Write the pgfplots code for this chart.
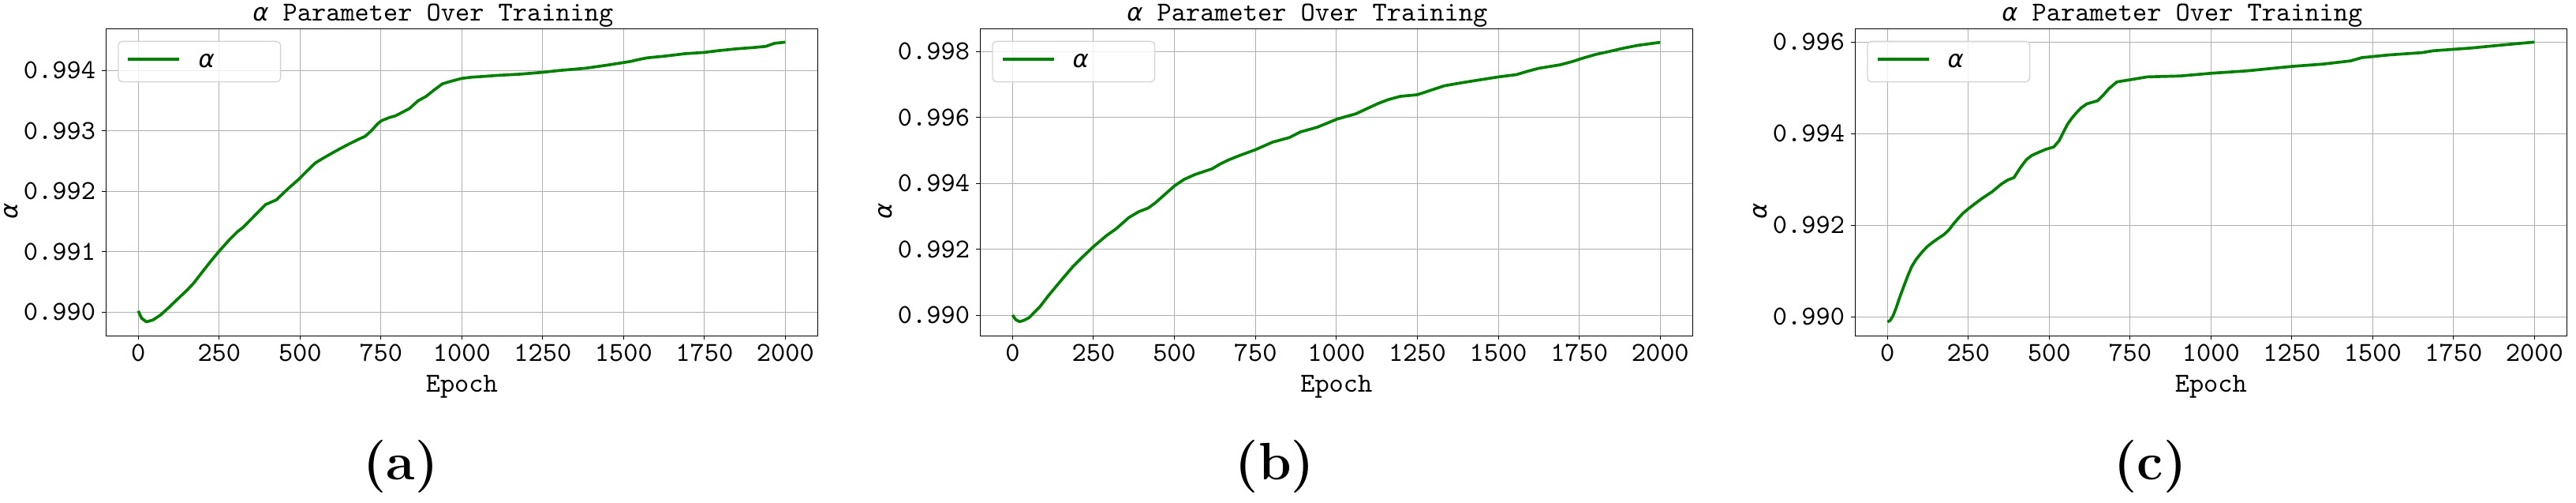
\documentclass[border=0pt]{standalone}
\usepackage{fontspec}
\usepackage{pgfplots}
\pgfplotsset{compat=1.18}
\newfontfamily\dv{DejaVu Sans}
\newcommand{\al}{{\dv\itshape\fontsize{9.2}{11}\selectfont α}}
\newcommand{\tf}{\fontsize{10.4}{12}\selectfont\ttfamily}
\definecolor{mplgreen}{HTML}{008000}
\pgfplotsset{
  panel/.style={
    scale only axis, height=116.7pt, anchor=south west,
    xmin=-100, xmax=2100,
    xtick={0,250,500,750,1000,1250,1500,1750,2000},
    scaled y ticks=false, scaled x ticks=false,
    yticklabel style={/pgf/number format/.cd, fixed, fixed zerofill, precision=3, assume math mode=true},
    xticklabel style={/pgf/number format/.cd, fixed, set thousands separator={}, assume math mode=true},
    ticklabel style={font=\tf, inner sep=0pt},
    xticklabel shift=1.4pt, yticklabel shift=2.3pt,
    tick align=outside, tick pos=left, major tick length=1.5pt,
    tick style={black, line width=0.3pt},
    axis line style={black, line width=0.35pt},
    grid=major, major grid style={color=black!31, line width=0.3pt},
    title={\al\ \tf Parameter Over Training},
    every axis title/.style={at={(axis description cs:0,1)}, anchor=base west, xshift=55.6pt, yshift=2.9pt, font=\tf, inner sep=0pt},
    xlabel={\tf Epoch},
    every axis x label/.style={at={(axis description cs:0.5,0)}, anchor=base, yshift=-21.4pt, inner sep=0pt},
    ylabel={\al},
    every axis y label/.style={at={(axis description cs:-0.1334,0.407)}, anchor=center, rotate=90, inner sep=0pt},
    legend style={
      at={(axis description cs:0.01663,0.9604)}, anchor=north west,
      draw=black!17, line width=0.4pt, rounded corners=1.5pt,
      fill=white, fill opacity=0.8, text opacity=1, draw opacity=1,
      inner xsep=3.2pt, inner ysep=0pt,
      nodes={inner sep=0pt, text height=10pt, text depth=5.4pt},
      /tikz/every odd column/.style={column sep=6.7pt},
      /tikz/every even column/.style={column sep=0pt},
    },
    legend cell align=left,
    legend image code/.code={\draw[##1, rounded corners=0pt] (0pt,0.9pt) -- (19.5pt,0.9pt);},
  },
  curve/.style={mplgreen, line width=1.1pt, line join=round},
}
\newcommand{\legtext}{\makebox[28pt][l]{\al}}
\begin{document}
\begin{tikzpicture}
\useasboundingbox (0pt,0pt) rectangle (979.5pt,190.8pt);
% panel (a)
\begin{axis}[panel, at={(40.29pt,63.21pt)}, width=270.6pt,
  ymin=0.989608, ymax=0.994693,
  ytick={0.990,0.991,0.992,0.993,0.994}]
\addplot[curve] coordinates {
(0,0.99002) (10,0.98990) (25,0.98984) (45,0.98987) (68,0.98995) (95,0.99008) (120,0.99021) (150,0.99036) (171,0.99048) (200,0.99068) (225,0.99085) (250,0.99101) (280,0.99119) (306,0.99133) (323,0.99140) (360,0.99160) (393,0.99178) (427,0.99186) (460,0.99203) (496,0.99220) (520,0.99233) (547,0.99247) (575,0.99256) (598,0.99263) (625,0.99271) (650,0.99278) (680,0.99286) (701,0.99291) (720,0.99300) (740,0.99312) (752,0.99317) (775,0.99322) (795,0.99325) (838,0.99337) (865,0.99350) (889,0.99357) (915,0.99368) (940,0.99378) (965,0.99382) (1000,0.99387) (1030,0.99389) (1060,0.99390) (1111,0.99392) (1180,0.99394) (1248,0.99397) (1300,0.99400) (1385,0.99404) (1450,0.99409) (1521,0.99415) (1545,0.99418) (1573,0.99421) (1630,0.99424) (1692,0.99428) (1750,0.99430) (1795,0.99433) (1850,0.99436) (1900,0.99438) (1940,0.99440) (1966,0.99445) (2000,0.99447)
};
\addlegendentry{\legtext}
\end{axis}
% panel (b)
\begin{axis}[panel, at={(372.69pt,63.21pt)}, width=270.9pt,
  ymin=0.98937, ymax=0.998695,
  ytick={0.990,0.992,0.994,0.996,0.998}]
\addplot[curve] coordinates {
(0,0.99000) (10,0.98986) (22,0.98980) (35,0.98984) (51,0.98992) (85,0.99026) (110,0.99058) (137,0.99090) (160,0.99117) (188,0.99149) (220,0.99180) (250,0.99208) (291,0.99242) (320,0.99262) (359,0.99296) (390,0.99314) (419,0.99325) (440,0.99340) (462,0.99359) (501,0.99393) (530,0.99412) (564,0.99427) (616,0.99444) (640,0.99458) (667,0.99471) (700,0.99484) (750,0.99502) (803,0.99525) (855,0.99539) (889,0.99556) (940,0.99570) (970,0.99582) (1002,0.99595) (1060,0.99611) (1095,0.99627) (1128,0.99642) (1160,0.99654) (1197,0.99664) (1250,0.99669) (1290,0.99682) (1333,0.99696) (1385,0.99705) (1436,0.99713) (1500,0.99723) (1556,0.99730) (1590,0.99740) (1624,0.99749) (1692,0.99760) (1730,0.99770) (1761,0.99780) (1800,0.99791) (1846,0.99801) (1890,0.99811) (1932,0.99819) (1970,0.99824) (2000,0.99828)
};
\addlegendentry{\legtext}
\end{axis}
% panel (c)
\begin{axis}[panel, at={(705.39pt,63.21pt)}, width=270.6pt,
  ymin=0.989586, ymax=0.996293,
  ytick={0.990,0.992,0.994,0.996}]
\addplot[curve] coordinates {
(0,0.98989) (8,0.98992) (17,0.99002) (27,0.99020) (37,0.99041) (50,0.99066) (63,0.99090) (75,0.99110) (88,0.99125) (105,0.99140) (122,0.99153) (140,0.99163) (156,0.99171) (175,0.99180) (190,0.99190) (203,0.99202) (216,0.99213) (233,0.99226) (250,0.99236) (270,0.99247) (293,0.99259) (323,0.99273) (352,0.99290) (372,0.99299) (391,0.99304) (410,0.99325) (429,0.99343) (445,0.99352) (463,0.99358) (490,0.99366) (514,0.99371) (531,0.99385) (545,0.99405) (556,0.99420) (570,0.99434) (582,0.99444) (598,0.99456) (616,0.99465) (650,0.99472) (668,0.99485) (684,0.99498) (709,0.99513) (752,0.99518) (803,0.99524) (905,0.99526) (1002,0.99532) (1109,0.99537) (1252,0.99547) (1347,0.99552) (1432,0.99559) (1466,0.99566) (1551,0.99572) (1653,0.99577) (1687,0.99581) (1804,0.99587) (1906,0.99594) (2000,0.99600)
};
\addlegendentry{\legtext}
\end{axis}
\node[anchor=base, font=\fontsize{20}{24}\selectfont\bfseries] at (152.4pt,8.55pt) {(a)};
\node[anchor=base, font=\fontsize{20}{24}\selectfont\bfseries] at (484.8pt,8.55pt) {(b)};
\node[anchor=base, font=\fontsize{20}{24}\selectfont\bfseries] at (817.65pt,8.55pt) {(c)};
\end{tikzpicture}
\end{document}
